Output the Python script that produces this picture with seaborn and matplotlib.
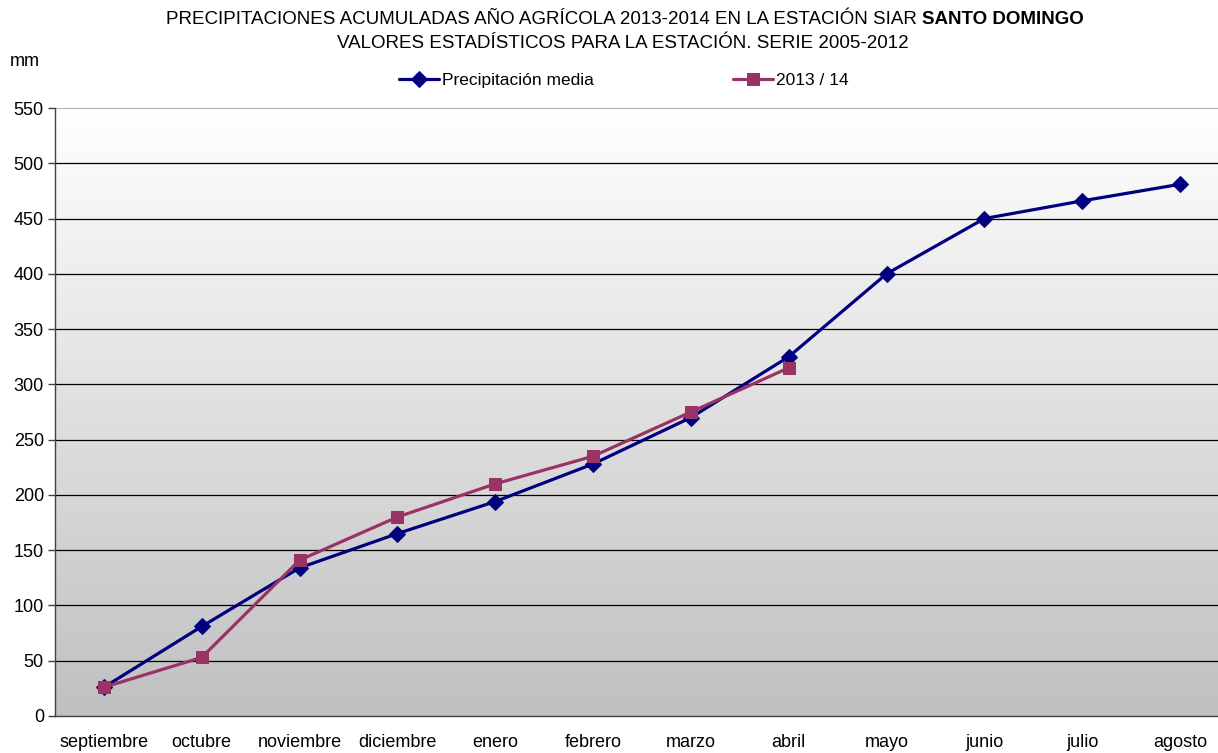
import numpy as np
import pandas as pd
import matplotlib
matplotlib.use("Agg")
import matplotlib.pyplot as plt
import seaborn as sns

meses = ["septiembre", "octubre", "noviembre", "diciembre", "enero", "febrero",
         "marzo", "abril", "mayo", "junio", "julio", "agosto"]
media = [26, 81, 134, 165, 194, 228, 270, 325, 400, 450, 466, 481]
campana = [26, 53, 141, 180, 210, 235, 275, 315]
yticks = list(range(0, 551, 50))

sns.set_theme(style="white")
plt.rcParams["font.family"] = ["Liberation Sans", "DejaVu Sans"]
plt.rcParams["text.color"] = "black"
plt.rcParams["xtick.labelcolor"] = "black"
plt.rcParams["ytick.labelcolor"] = "black"

df_media = pd.DataFrame({"mes": meses, "mm": media})
df_camp = pd.DataFrame({"mes": meses[:len(campana)], "mm": campana})

fig = plt.figure(figsize=(12.18, 7.53), dpi=100)
ax = fig.add_axes([55 / 1218, 37 / 753, 1174 / 1218, 608 / 753])

# gradient background
grad = np.linspace(0, 1, 256).reshape(-1, 1)
cmap = matplotlib.colors.LinearSegmentedColormap.from_list("bg", ["#ffffff", "#c0c0c0"])
ax.imshow(grad, aspect="auto", cmap=cmap, extent=[0, 1, 0, 1],
          transform=ax.transAxes, zorder=0)

sns.lineplot(data=df_media, x="mes", y="mm", ax=ax, color="#000080", lw=2.3,
             marker="D", markersize=8, markeredgecolor="#000080",
             label="Precipitación media", sort=False, zorder=3)
sns.lineplot(data=df_camp, x="mes", y="mm", ax=ax, color="#993366", lw=2.3,
             marker="s", markersize=9, markeredgecolor="#993366",
             label="2013 / 14", sort=False, zorder=4)

ax.set_xlim(-0.5, len(meses) - 0.5)
ax.set_ylim(0, 550)
ax.set_yticks(yticks)
for v in yticks[1:-1]:
    ax.axhline(v, color="black", lw=0.9, zorder=1)
ax.axhline(550, color="#b0b0b0", lw=1.5, zorder=1)

ax.set_xticks(range(len(meses)))
ax.set_xticklabels(meses)
ax.set_xticks(np.arange(-0.5, len(meses), 1), minor=True)
ax.tick_params(axis="x", which="major", length=0, pad=13, labelsize=13)
ax.tick_params(axis="x", which="minor", length=5, width=1, color="#404040", direction="out")
ax.tick_params(axis="y", length=5, width=1, color="#404040", direction="out",
               labelsize=13, pad=3, left=True)
ax.set_xlabel("")
ax.set_ylabel("")
for s in ["top", "right"]:
    ax.spines[s].set_visible(False)
ax.spines["left"].set_color("#404040")
ax.spines["bottom"].set_color("#404040")
ax.spines["left"].set_linewidth(1)
ax.spines["bottom"].set_linewidth(1)

ax.legend_.remove()
h, l = ax.get_legend_handles_labels()
fig.legend(h, l, loc="center", bbox_to_anchor=(624 / 1218, 1 - 80 / 753), ncol=2,
           frameon=False, fontsize=12.5, handlelength=2.3, handletextpad=0.2,
           columnspacing=8.0)

fig.text(922 / 1218, 1 - 19 / 753, "PRECIPITACIONES ACUMULADAS AÑO AGRÍCOLA 2013-2014 EN LA ESTACIÓN SIAR ",
         ha="right", va="center", fontsize=13.5)
fig.text(922 / 1218, 1 - 19 / 753, "SANTO DOMINGO", ha="left", va="center",
         fontsize=13.5, fontweight="bold")
fig.text(623 / 1218, 1 - 44 / 753, "VALORES ESTADÍSTICOS PARA LA ESTACIÓN. SERIE 2005-2012",
         ha="center", va="center", fontsize=13.5)
fig.text(10 / 1218, 1 - 62 / 753, "mm", ha="left", va="center", fontsize=13)

fig.savefig("out.png", dpi=100)
